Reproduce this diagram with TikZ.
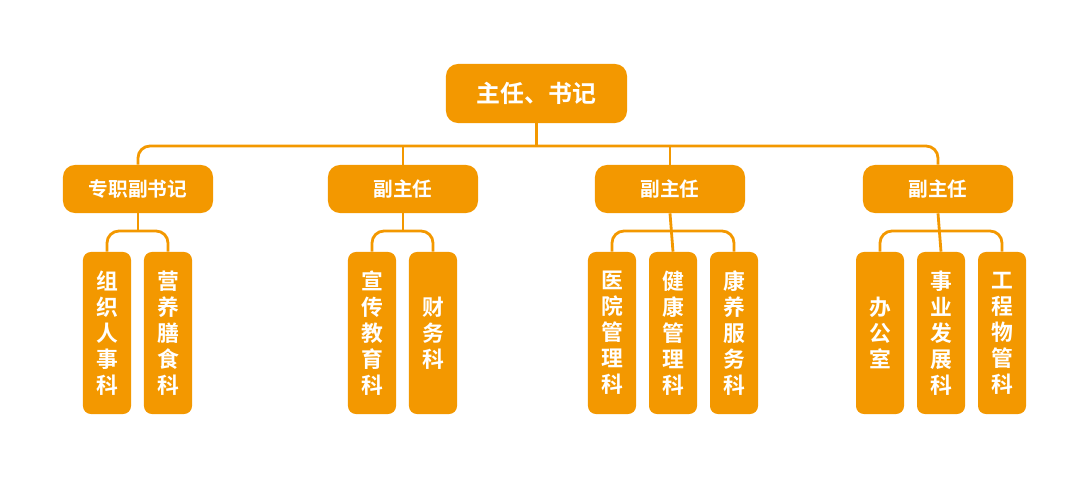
\documentclass[tikz,border=0pt]{standalone}
\usepackage{fontspec}
\newfontfamily\cjk{Noto Sans CJK SC}[BoldFont={Noto Sans CJK SC Bold}]
\usetikzlibrary{positioning}
\definecolor{orgcolor}{HTML}{F39800}
\tikzset{
    topnode/.style = {rectangle, fill=orgcolor, rounded corners=0.3cm, text=white,
      minimum width=4.525cm, minimum height=1.475cm, font=\cjk\bfseries\fontsize{17}{20}\selectfont},
    deputynode/.style = {rectangle, fill=orgcolor, rounded corners=0.3cm, text=white,
      minimum width=3.75cm, minimum height=1.2cm, font=\cjk\bfseries\fontsize{14}{17}\selectfont},
    deptnode/.style = {rectangle, fill=orgcolor, rounded corners=0.2cm, text=white, inner sep=0pt,
      minimum width=1.2cm, minimum height=4.05cm, align=center,
      font=\cjk\bfseries\fontsize{15.5}{18.5}\selectfont},
    link/.style = {draw=orgcolor, line width=2pt, rounded corners=0.3cm}
}
\begin{document}
\begin{tikzpicture}[x=0.025cm, y=-0.025cm]
    \useasboundingbox (0,0) rectangle (1080,500);
    \node[topnode, name=Head] at (536.5,93.5) {主任、书记};

    \node[deputynode, name=D1] at (138,189) {专职副书记};
    \node[deputynode, name=D2] at (403,189) {副主任};
    \node[deputynode, name=D3] at (670,189) {副主任};
    \node[deputynode, name=D4] at (938,189) {副主任};

    \node[deptnode, name=K11] at (107,333) {组\\织\\人\\事\\科};
    \node[deptnode, name=K12] at (168,333) {营\\养\\膳\\食\\科};
    \node[deptnode, name=K21] at (372,333) {宣\\传\\教\\育\\科};
    \node[deptnode, name=K22] at (433,333) {财\\务\\科};
    \node[deptnode, name=K31] at (612,333) {医\\院\\管\\理\\科};
    \node[deptnode, name=K32] at (673,333) {健\\康\\管\\理\\科};
    \node[deptnode, name=K33] at (734,333) {康\\养\\服\\务\\科};
    \node[deptnode, name=K41] at (880,333) {办\\公\\室};
    \node[deptnode, name=K42] at (941,333) {事\\业\\发\\展\\科};
    \node[deptnode, name=K43] at (1002,333) {工\\程\\物\\管\\科};

    \coordinate (TopBar) at (0,146);
    \coordinate (SubBar) at (0,231);

    \draw[link] (D1.north) |- (TopBar -| Head) -| (D4.north);
    \draw[link] (Head.south) -- (Head.south |- TopBar);
    \draw[link] (D2.north) -- (D2.north |- TopBar);
    \draw[link] (D3.north) -- (D3.north |- TopBar);

    \draw[link] (K11.north) |- (SubBar -| D1) -| (K12.north);
    \draw[link] (D1.south) -- (D1.south |- SubBar);
    \draw[link] (K21.north) |- (SubBar -| D2) -| (K22.north);
    \draw[link] (D2.south) -- (D2.south |- SubBar);
    \draw[link] (K31.north) |- (SubBar -| D3) -| (K33.north);
    \draw[link] (D3.south) -- (K32.north);
    \draw[link] (K41.north) |- (SubBar -| D4) -| (K43.north);
    \draw[link] (D4.south) -- (K42.north);
\end{tikzpicture}
\end{document}
